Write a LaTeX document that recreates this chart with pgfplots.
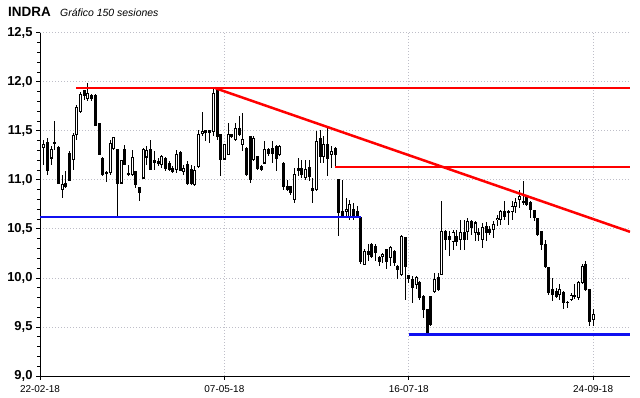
\documentclass[border=0pt]{standalone}
\usepackage{pgfplots}
\usepackage{pgfplotstable}
\pgfplotsset{compat=1.18}
\usepackage{fontspec}
\setmainfont{Liberation Sans}
\definecolor{gridc}{HTML}{BEBEC8}
\definecolor{lred}{HTML}{FF0000}
\definecolor{lblue}{HTML}{1010F0}

\pgfplotstableread{
i O H L C
1 11.33 11.41 11.15 11.36
2 11.384 11.425 11.052 11.096
3 11.222 11.34 11.154 11.313
4 11.384 11.595 11.306 11.37
5 11.333 11.34 10.96 10.967
6 10.899 11.052 10.815 10.957
7 10.967 11.086 10.92 10.933
8 11.272 11.289 10.984 10.991
9 11.211 11.476 11.103 11.449
10 11.466 11.765 11.409 11.741
11 11.697 11.90 11.68 11.867
12 11.907 11.917 11.816 11.86
13 11.833 11.985 11.80 11.877
14 11.86 11.877 11.80 11.826
15 11.86 11.873 11.55 11.555
16 11.578 11.58 11.25 11.256
17 11.222 11.23 11.036 11.053
18 11.076 11.087 10.978 11.063
19 11.07 11.409 11.053 11.375
20 11.317 11.44 11.307 11.436
21 11.306 11.31 10.611 10.967
22 10.967 11.205 10.96 11.194
23 11.306 11.357 11.15 11.154
24 11.05 11.154 11.035 11.06
25 11.052 11.306 11.035 11.232
26 11.086 11.09 10.916 10.95
27 10.927 10.93 10.781 10.872
28 11.018 11.323 11.01 11.306
29 11.232 11.34 11.154 11.30
30 11.313 11.408 11.10 11.103
31 11.194 11.289 11.103 11.177
32 11.19 11.222 11.137 11.17
33 11.154 11.256 11.12 11.239
34 11.222 11.23 11.086 11.12
35 11.17 11.188 11.086 11.103
36 11.113 11.137 11.069 11.086
37 11.103 11.306 11.069 11.262
38 11.283 11.289 11.09 11.093
39 11.086 11.154 11.052 11.12
40 11.154 11.188 10.95 10.967
41 11.103 11.154 10.95 10.967
42 10.95 11.137 10.933 11.093
43 11.137 11.51 11.12 11.459
44 11.476 11.696 11.442 11.493
45 11.50 11.50 11.391 11.486
46 11.50 11.50 11.374 11.486
47 11.493 11.934 11.443 11.883
48 11.934 11.95 11.409 11.443
49 11.459 11.46 11.036 11.205
50 11.212 11.36 11.205 11.358
51 11.256 11.578 11.25 11.459
52 11.459 11.46 11.426 11.443
53 11.409 11.578 11.392 11.527
54 11.527 11.646 11.45 11.459
55 11.358 11.68 11.29 11.409
56 11.324 11.33 11.036 11.053
57 11.443 11.45 10.968 11.002
58 11.205 11.443 11.188 11.426
59 11.239 11.24 11.103 11.12
60 11.137 11.154 11.086 11.103
61 11.171 11.392 11.17 11.307
62 11.307 11.324 11.239 11.273
63 11.324 11.392 11.171 11.273
64 11.341 11.35 11.086 11.222
65 11.256 11.358 11.239 11.341
66 11.171 11.18 10.90 10.934
67 10.934 11.002 10.89 10.90
68 10.934 10.94 10.849 10.866
69 10.798 11.12 10.764 11.053
70 11.12 11.22 11.036 11.10
71 11.12 11.205 11.019 11.053
72 11.019 11.205 11.002 11.103
73 11.121 11.205 10.985 11.036
74 10.907 11.019 10.764 10.893
75 10.90 11.494 10.89 11.392
76 11.426 11.511 11.171 11.239
77 11.239 11.443 11.171 11.358
78 11.358 11.527 11.036 11.222
79 11.256 11.341 11.121 11.29
80 11.324 11.33 11.121 11.256
81 11.002 11.01 10.425 10.663
82 10.68 11.002 10.612 10.629
83 10.68 10.815 10.629 10.697
84 10.612 10.798 10.595 10.748
85 10.697 10.764 10.595 10.612
86 10.68 10.731 10.612 10.629
87 10.612 10.629 10.137 10.171
88 10.137 10.29 10.13 10.273
89 10.273 10.341 10.171 10.239
90 10.341 10.358 10.205 10.222
91 10.324 10.341 10.171 10.256
92 10.205 10.222 10.12 10.171
93 10.222 10.256 10.154 10.239
94 10.29 10.29 10.086 10.171
95 10.205 10.324 10.12 10.307
96 10.273 10.28 10.12 10.154
97 10.12 10.13 9.985 10.086
98 10.035 10.442 10.018 10.425
99 10.408 10.41 9.78 10.12
100 10.025 10.03 9.95 9.991
101 9.984 10.018 9.747 9.899
102 9.933 10.018 9.882 10.001
103 9.95 9.967 9.78 9.797
104 9.814 9.831 9.594 9.679
105 9.679 9.68 9.42 9.424
106 9.814 9.82 9.509 9.526
107 9.865 10.052 9.848 9.984
108 10.001 10.052 9.865 9.882
109 10.035 10.781 10.03 10.476
110 10.476 10.493 10.289 10.391
111 10.425 10.476 10.221 10.391
112 10.374 10.493 10.289 10.459
113 10.425 10.493 10.323 10.374
114 10.391 10.594 10.289 10.459
115 10.459 10.594 10.289 10.391
116 10.476 10.611 10.391 10.577
117 10.577 10.594 10.442 10.509
118 10.459 10.577 10.374 10.56
119 10.459 10.51 10.374 10.442
120 10.391 10.56 10.306 10.51
121 10.527 10.567 10.374 10.459
122 10.493 10.527 10.442 10.459
123 10.493 10.577 10.408 10.544
124 10.594 10.645 10.527 10.611
125 10.594 10.696 10.543 10.679
126 10.679 10.781 10.594 10.628
127 10.676 10.696 10.543 10.662
128 10.679 10.781 10.594 10.73
129 10.73 10.815 10.662 10.771
130 10.798 10.9 10.713 10.832
131 10.781 10.984 10.747 10.764
132 10.832 10.849 10.73 10.747
133 10.764 10.781 10.611 10.696
134 10.689 10.696 10.577 10.611
135 10.601 10.611 10.425 10.442
136 10.476 10.48 10.289 10.34
137 10.34 10.391 10.103 10.12
138 10.103 10.11 9.831 9.848
139 9.882 10.001 9.764 9.831
140 9.865 9.899 9.797 9.814
141 9.831 9.933 9.78 9.882
142 9.855 9.865 9.679 9.747
143 9.754 9.764 9.696 9.747
144 9.78 9.848 9.764 9.821
145 9.821 9.933 9.787 9.808
146 9.797 9.967 9.78 9.95
147 9.95 10.137 9.933 10.12
148 10.137 10.171 9.865 9.882
149 9.882 9.89 9.509 9.56
150 9.577 9.679 9.509 9.628
}\candles

\pgfplotstableread{
x y
9.8 11.935
160 11.935
}\redtop
\pgfplotstableread{
x y
47.5 11.935
160 10.47
}\reddiag
\pgfplotstableread{
x y
80 11.131
160 11.131
}\redmid
\pgfplotstableread{
x y
0 10.622
87 10.622
}\bluetop
\pgfplotstableread{
x y
100 9.425
160 9.425
}\bluebot

\begin{document}
\begin{tikzpicture}
\useasboundingbox (0,0) rectangle (640bp,398bp);
\node[anchor=base west, inner sep=0pt, font=\bfseries\fontsize{13.5}{14}\selectfont] at (8bp,381bp) {INDRA};
\node[anchor=base west, inner sep=0pt, font=\itshape\fontsize{10.5}{12}\selectfont] at (60bp,381bp) {Gráfico 150 sesiones};
\begin{axis}[
  at={(40bp,22bp)}, anchor=south west,
  scale only axis, width=590bp, height=343.3bp,
  xmin=0, xmax=160, ymin=9, ymax=12.5,
  axis x line*=bottom, axis y line*=left,
  every outer x axis line/.append style={-, line width=1bp},
  every outer y axis line/.append style={-, line width=1bp},
  xtick={0,50,100,150},
  xticklabels={22-02-18,07-05-18,16-07-18,24-09-18},
  ytick={9,9.5,10,10.5,11,11.5,12,12.5},
  yticklabels={{9,0},{9,5},{10,0},{10,5},{11,0},{11,5},{12,0},{12,5}},
  minor ytick={9.1,9.2,9.3,9.4,9.6,9.7,9.8,9.9,10.1,10.2,10.3,10.4,10.6,10.7,10.8,10.9,11.1,11.2,11.3,11.4,11.6,11.7,11.8,11.9,12.1,12.2,12.3,12.4},
  tick align=outside,
  major tick length=4bp, minor tick length=3bp,
  tick style={black, line width=0.8bp},
  xticklabel style={font=\fontsize{10}{12}\selectfont, yshift=-2bp},
  yticklabel style={font=\bfseries\fontsize{13}{14}\selectfont},
  grid=major,
  major grid style={gridc, line width=0.8bp, dash pattern=on 1bp off 2bp},
  clip=true,
]
% wicks
\addplot[draw=none, mark=none, forget plot,
  error bars/.cd, y dir=both, y explicit, error mark=none,
  error bar style={line width=1bp, draw=black, solid}]
  table[x=i, y expr={(\thisrow{H}+\thisrow{L})/2}, y error expr={(\thisrow{H}-\thisrow{L})/2}] {\candles};
% bodies (black / outline)
\addplot[draw=none, mark=none, forget plot,
  error bars/.cd, y dir=both, y explicit, error mark=none,
  error bar style={line width=3bp, draw=black, solid}]
  table[x=i, y expr={(\thisrow{O}+\thisrow{C})/2}, y error expr={abs(\thisrow{O}-\thisrow{C})/2+0.005}] {\candles};
% white interiors (rising candles only)
\addplot[draw=none, mark=none, forget plot,
  restrict expr to domain={\thisrow{C}-\thisrow{O}}{0.013:10},
  error bars/.cd, y dir=both, y explicit, error mark=none,
  error bar style={line width=1.1bp, draw=white, solid}]
  table[x=i, y expr={(\thisrow{O}+\thisrow{C})/2}, y error expr={(\thisrow{C}-\thisrow{O})/2-0.006}] {\candles};
% support / resistance lines
\addplot[lred, line width=1.3bp] table[x=x,y=y] {\redtop};
\addplot[lred, line width=2.5bp] table[x=x,y=y] {\reddiag};
\addplot[lred, line width=2.2bp] table[x=x,y=y] {\redmid};
\addplot[lblue, line width=2.6bp] table[x=x,y=y] {\bluetop};
\addplot[lblue, line width=2.6bp] table[x=x,y=y] {\bluebot};
\end{axis}
\end{tikzpicture}
\end{document}
